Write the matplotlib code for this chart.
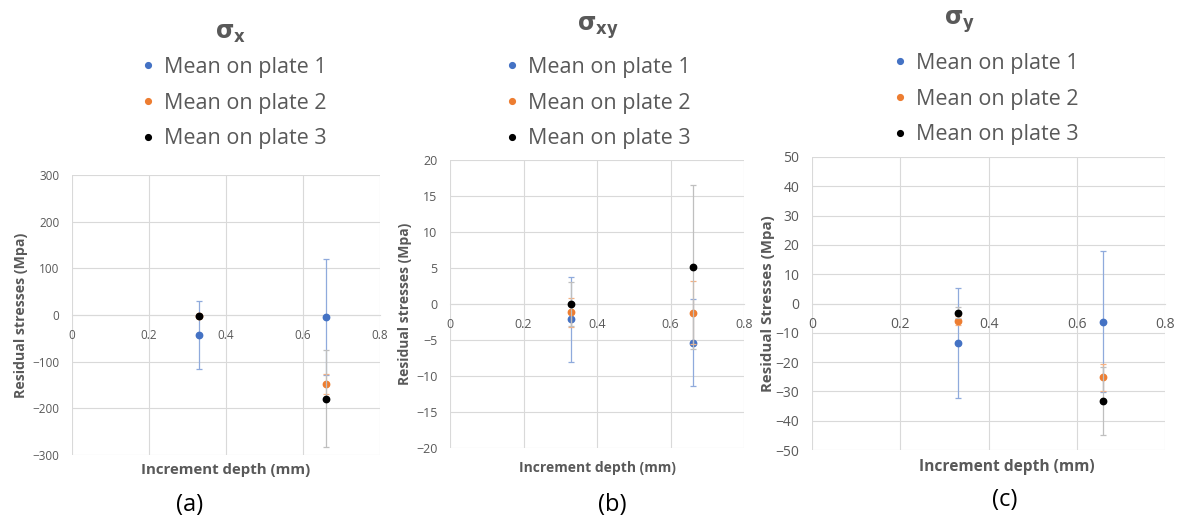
import numpy as np
import matplotlib.pyplot as plt

# hloubka inkrementu (mm)
depth = [0.33, 0.66]

# sigma x (MPa)
sx_p1 = [-43, -5]
sx_p1_err = [73, 124]
sx_p2 = [-3, -148]
sx_p2_err = [4, 22]
sx_p3 = [-2, -179]
sx_p3_err = [5, 103]

# sigma xy (MPa)
sxy_p1 = [-2.1, -5.35]
sxy_p1_err = [5.9, 6.1]
sxy_p2 = [-1.15, -1.2]
sxy_p2_err = [2.0, 4.4]
sxy_p3 = [0.0, 5.1]
sxy_p3_err = [3.0, 11.4]

# sigma y (MPa)
sy_p1 = [-13.4, -6.2]
sy_p1_err = [18.7, 24.0]
sy_p2 = [-5.9, -25.2]
sy_p2_err = [1.5, 4.5]
sy_p3 = [-3.1, -33.2]
sy_p3_err = [1.8, 11.6]

labels = ["Mean on plate 1", "Mean on plate 2", "Mean on plate 3"]
x_ticks = [0, 0.2, 0.4, 0.6, 0.8]
x_ticklabels = ["0", "0.2", "0.4", "0.6", "0.8"]

barvy = ["#4472C4", "#ED7D31", "#000000"]
barvy_err = ["#8FAADC", "#F4B183", "#BFBFBF"]
seda = "#595959"

W, H = 1179, 523
fig = plt.figure(figsize=(W / 100, H / 100), dpi=100)
plt.rcParams["font.family"] = ["Open Sans", "DejaVu Sans"]


def px_axes(x0, y0, x1, y1):
    # obdélník v pixelech (shora) -> souřadnice figury
    return fig.add_axes([x0 / W, 1 - y1 / H, (x1 - x0) / W, (y1 - y0) / H])


panely = [
    dict(box=(72, 175, 380, 455), data=[(sx_p1, sx_p1_err), (sx_p2, sx_p2_err), (sx_p3, sx_p3_err)],
         ylim=(-300, 300), ystep=100, ylabel="Residual stresses (Mpa)", tick=8.5, yl=10.2, xl=10.8,
         ylx=-0.143, xlpos=(0.5, -0.055), title=r"$\mathbf{\sigma_x}$", tpos=(231, 33),
         leg=(140, 57), tag="(a)", tagpos=(190, 505)),
    dict(box=(450, 160, 744, 448), data=[(sxy_p1, sxy_p1_err), (sxy_p2, sxy_p2_err), (sxy_p3, sxy_p3_err)],
         ylim=(-20, 20), ystep=5, ylabel="Residual stresses (Mpa)", tick=9, yl=10, xl=10,
         ylx=-0.128, xlpos=(0.5, -0.069), title=r"$\mathbf{\sigma_{xy}}$", tpos=(598, 28),
         leg=(504, 57), tag="(b)", tagpos=(612, 505)),
    dict(box=(812, 157, 1165, 450), data=[(sy_p1, sy_p1_err), (sy_p2, sy_p2_err), (sy_p3, sy_p3_err)],
         ylim=(-50, 50), ystep=10, ylabel="Residual Stresses (Mpa)", tick=10, yl=10.8, xl=11.2,
         ylx=-0.105, xlpos=(0.552, -0.057), title=r"$\mathbf{\sigma_y}$", tpos=(960, 22),
         leg=(892, 53), tag="(c)", tagpos=(1005, 500)),
]

for p in panely:
    ax = px_axes(*p["box"])
    handles = []
    for i, (mean, err) in enumerate(p["data"]):
        ax.errorbar(depth, mean, yerr=err, fmt="none", ecolor=barvy_err[i], elinewidth=0.9,
                    capsize=2, capthick=0.9, zorder=3 + 2 * i)
        h, = ax.plot(depth, mean, "o", color=barvy[i], markersize=4.6, zorder=4 + 2 * i, label=labels[i])
        handles.append(h)

    ax.set_xlim(0, 0.8)
    ax.set_ylim(*p["ylim"])
    ax.set_xticks(x_ticks)
    ax.set_xticklabels(x_ticklabels)
    ax.set_yticks(np.arange(p["ylim"][0], p["ylim"][1] + 0.1, p["ystep"]))
    ax.grid(True, color="#D9D9D9", linewidth=0.8)
    ax.set_axisbelow(True)
    for s in ["top", "right", "left"]:
        ax.spines[s].set_visible(False)
    ax.spines["bottom"].set_position(("data", 0))
    ax.spines["bottom"].set_color("#D9D9D9")
    ax.tick_params(length=0, labelsize=p["tick"], labelcolor=seda)
    ax.tick_params(axis="x", pad=10)
    ax.tick_params(axis="y", pad=9)

    ax.set_ylabel(p["ylabel"], fontsize=p["yl"], fontweight="bold", color=seda)
    ax.yaxis.set_label_coords(p["ylx"], 0.5)
    ax.set_xlabel("Increment depth (mm)", fontsize=p["xl"], fontweight="bold", color=seda)
    ax.xaxis.set_label_coords(*p["xlpos"])
    ax.xaxis.label.set_verticalalignment("center")

    fig.text(p["tpos"][0] / W, 1 - p["tpos"][1] / H, p["title"], fontsize=17, color=seda,
             ha="center", va="center")
    ax.legend(handles=handles, loc="upper left", bbox_to_anchor=(p["leg"][0] / W, 1 - p["leg"][1] / H),
              bbox_transform=fig.transFigure, frameon=False, fontsize=15.5, labelcolor=seda,
              handlelength=0.75, handletextpad=0.35, labelspacing=0.68, borderpad=0, borderaxespad=0,
              markerscale=0.9)
    fig.text(p["tagpos"][0] / W, 1 - p["tagpos"][1] / H, p["tag"], fontsize=17, color="black",
             ha="center", va="center")

fig.savefig("out.png", dpi=100)
